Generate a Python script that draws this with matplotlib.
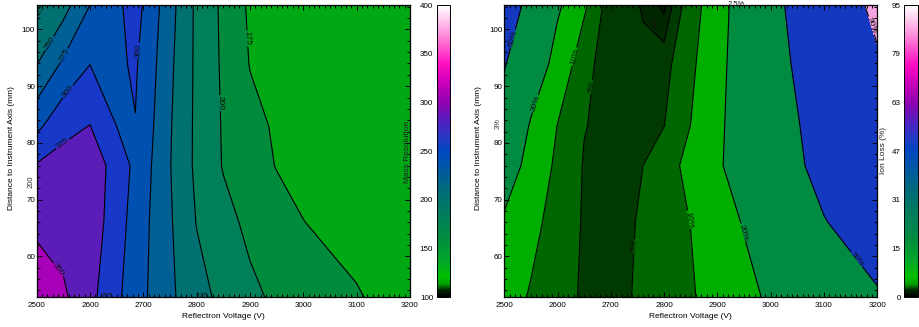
import matplotlib
matplotlib.use("Agg")
import matplotlib.pyplot as plt
import numpy as np
from matplotlib.colors import LinearSegmentedColormap, Normalize
from matplotlib.cm import ScalarMappable
from matplotlib.ticker import MultipleLocator

plt.rcParams['font.family'] = ['Liberation Sans', 'DejaVu Sans']

# ---------------- data ----------------
VOLTAGE = [2500, 2550, 2600, 2650, 2685, 2720, 2760, 2800, 2850, 2900, 2950, 3000, 3100, 3200]
DISTANCE = [52.8, 66, 76, 83, 94, 104.3]

MASS_RESOLUTION = [
    [365, 354, 332, 305, 286, 269, 250.5, 234.5, 218, 205, 196, 190, 176.6, 165],
    [345, 340, 340, 311, 290, 270, 247, 224, 207.5, 194.7, 185, 175.3, 168, 162],
    [327, 334, 340, 315, 294, 272, 244, 220, 198.5, 186, 174, 170, 164, 160],
    [294, 318, 325.5, 299.8, 299.2, 274.5, 245, 220, 197.8, 182, 172, 168, 163, 159],
    [249, 279, 299.5, 296, 303, 278.5, 247.7, 220.1, 196.2, 174, 170, 167, 162, 158],
    [219, 240, 275, 295, 310, 283.3, 251, 220, 195, 171, 167, 164, 160, 157],
]

ION_LOSS = [
    [13, 9.4, 6.75, 4.4, 3.3, 4.2, 5.9, 7.4, 9.35, 12.75, 16.9, 21.7, 34.9, 48],
    [18, 11.8, 7.6, 4.6, 3.4, 3.9, 5.6, 7.6, 10.1, 15.25, 20.7, 30.2, 49.1, 61],
    [28, 15.2, 8.6, 4.7, 3.8, 3.6, 4.98, 7.6, 11.75, 18, 27.4, 38.3, 56.5, 70.6],
    [37.5, 18.4, 9.8, 5.15, 4.3, 4.0, 4.2, 4.95, 10.1, 17.3, 27.2, 38.8, 59.2, 77],
    [51.7, 30.1, 15.1, 6.2, 4.0, 3.8, 3.0, 3.62, 8.5, 16, 27.2, 40.6, 65.3, 87],
    [62, 43.8, 21.8, 11, 4.93, 3.7, 2.3, 0.5, 7.06, 14.3, 27.2, 42.8, 70.5, 96],
]

MASS_LEVELS = [100, 175, 200, 225, 250, 275, 300, 325, 350, 400]
MASS_LINE_LEVELS = [175, 200, 225, 250, 275, 300, 325, 350]
MASS_FILL_COLORS = ['#00a814', '#008a3c', '#007f58', '#007070', '#006094',
                    '#0050b0', '#1838c8', '#5c1cb8', '#a800b8']
ION_LEVELS = [0, 1, 2.5, 5, 10, 20, 50, 90, 100]
ION_LINE_LEVELS = [1, 2.5, 5, 10, 20, 50, 90]
ION_FILL_COLORS = ['#001600', '#002600', '#003a00', '#006600', '#00ae00',
                   '#008c40', '#1438c0', '#f4a2e0']
ION_LABEL_TEXT = {1: '1%', 2.5: '2.5%', 5: '5%', 10: '10%', 20: '20%', 50: '50%', 90: '90%'}

MASS_CBAR_TICKS = [100, 150, 200, 250, 300, 350, 400]
ION_CBAR_TICKS = [0, 15.83, 31.67, 47.5, 63.33, 79.17, 95]
ION_CBAR_LABELS = ['0', '15', '31', '47', '63', '79', '95']

MASS_LABEL_POS = [(2512, 102.8), (2525, 97.5), (2550, 95.5), (2559, 89), (2550, 79.6),
                  (2537, 57.4), (2690, 96.3), (2844, 87), (2894, 98.4)]
ION_LABEL_POS = [(2517, 98.4), (2556, 87), (2633, 95.2), (2664, 89.9), (2742, 61.8),
                 (2848, 66.5), (2955, 64.4), (3161, 59.4), (3183, 100.5)]

# continuous colour table used for the colour bars
CMAP_STOPS = [(0.0, '#000000'), (0.02, '#002000'), (0.045, '#00a000'), (0.07, '#00c000'),
              (0.12, '#00a828'), (0.2, '#008c40'), (0.3, '#007a60'), (0.38, '#006880'),
              (0.45, '#0054a8'), (0.5, '#0048c0'), (0.55, '#2838c4'), (0.6, '#5020c0'),
              (0.667, '#9000b0'), (0.75, '#d800bc'), (0.8, '#ff10c0'), (0.85, '#ff50cc'),
              (0.9, '#ff90dc'), (0.95, '#ffc8ec'), (1.0, '#ffffff')]
CMAP = LinearSegmentedColormap.from_list('greenpink', CMAP_STOPS)

W, H = 920, 327
FS = 5.8
LFS = 6.0


def fx(px):
    return px / W


def fy(py):
    return 1 - py / H


fig = plt.figure(figsize=(9.2, 3.27), dpi=100)
top, bot = 5, 297.3
hgt = (bot - top) / H
ax1 = fig.add_axes([fx(36.7), fy(bot), (410 - 36.7) / W, hgt])
cax1 = fig.add_axes([fx(436.7), fy(bot), 13.3 / W, hgt])
ax2 = fig.add_axes([fx(504.3), fy(bot), (877.3 - 504.3) / W, hgt])
cax2 = fig.add_axes([fx(904.3), fy(bot), 14 / W, hgt])

X, Y = np.meshgrid(VOLTAGE, DISTANCE)
Z1 = np.array(MASS_RESOLUTION)
Z2 = np.array(ION_LOSS)

ax1.contourf(X, Y, Z1, levels=MASS_LEVELS, colors=MASS_FILL_COLORS, antialiased=False)
cs1 = ax1.contour(X, Y, Z1, levels=MASS_LINE_LEVELS, colors='k', linewidths=0.8)
ax1.clabel(cs1, fmt='%d', manual=MASS_LABEL_POS, fontsize=LFS, inline=True,
           inline_spacing=1, colors='#101010')

ax2.contourf(X, Y, Z2, levels=ION_LEVELS, colors=ION_FILL_COLORS, antialiased=False)
cs2 = ax2.contour(X, Y, Z2, levels=ION_LINE_LEVELS, colors='k', linewidths=0.8)
ax2.clabel(cs2, fmt=ION_LABEL_TEXT, manual=ION_LABEL_POS, fontsize=LFS, inline=True,
           inline_spacing=1, colors='#101010')
ax2.text(2776, 101, '5%', rotation=-62, fontsize=LFS, color='#101010',
         ha='center', va='center')

for ax in (ax1, ax2):
    ax.set_xlim(2500, 3200)
    ax.set_ylim(52.8, 104.3)
    ax.xaxis.set_major_locator(MultipleLocator(100))
    ax.xaxis.set_minor_locator(MultipleLocator(10))
    ax.yaxis.set_major_locator(MultipleLocator(10))
    ax.yaxis.set_minor_locator(MultipleLocator(2))
    ax.tick_params(which='both', direction='in', top=True, right=True,
                   labelsize=FS, width=0.7, colors='k')
    ax.tick_params(which='major', length=3.8)
    ax.tick_params(which='minor', length=1.9)
    ax.tick_params(axis='x', pad=3.5)
    ax.tick_params(axis='y', pad=1.2)
    for s in ax.spines.values():
        s.set_linewidth(0.9)

# colour bars
for cax, lo, hi, ticks in ((cax1, 100, 400, MASS_CBAR_TICKS), (cax2, 0, 95, ION_CBAR_TICKS)):
    sm = ScalarMappable(norm=Normalize(lo, hi), cmap=CMAP)
    cb = fig.colorbar(sm, cax=cax)
    cb.set_ticks(ticks)
    cb.outline.set_linewidth(0.7)
    cax.yaxis.set_ticks_position('left')
    cax.yaxis.set_label_position('left')
    cax.tick_params(length=0, pad=2.5, labelsize=FS)
cax2.set_yticklabels(ION_CBAR_LABELS)

# axis titles
for xl, xc in ((36.7, 223.3), (504.3, 690.8)):
    fig.text(fx(xc), fy(316.7), 'Reflectron Voltage (V)', fontsize=6, ha='center', va='center')
    fig.text(fx(xl - 25.5), fy(148), 'Distance to Instrument Axis (mm)', fontsize=6,
             rotation=90, ha='center', va='center')
fig.text(fx(407.5), fy(152), 'Mass Resolution', fontsize=6, rotation=90,
         ha='center', va='center', color='#202020')
fig.text(fx(884), fy(150.5), 'Ion Loss (%)', fontsize=6, rotation=90,
         ha='center', va='center', color='#202020')

# stray contour labels as they appear in the reference
fig.text(fx(31.5), fy(181.5), '200', fontsize=5.5, rotation=90, ha='center', va='center', color='#333333')
fig.text(fx(498.3), fy(123.3), '3%', fontsize=5.5, rotation=90, ha='center', va='center', color='#333333')
fig.text(fx(106.5), fy(297), '225', fontsize=5.5, ha='center', va='center', color='#1a1a1a')
fig.text(fx(201.7), fy(296.5), '175', fontsize=5.5, ha='center', va='center', color='#1a1a1a')
fig.text(fx(736.5), fy(4.5), '2.5%', fontsize=5.5, ha='center', va='center', color='#1a1a1a')

fig.savefig('out.png', dpi=100)
